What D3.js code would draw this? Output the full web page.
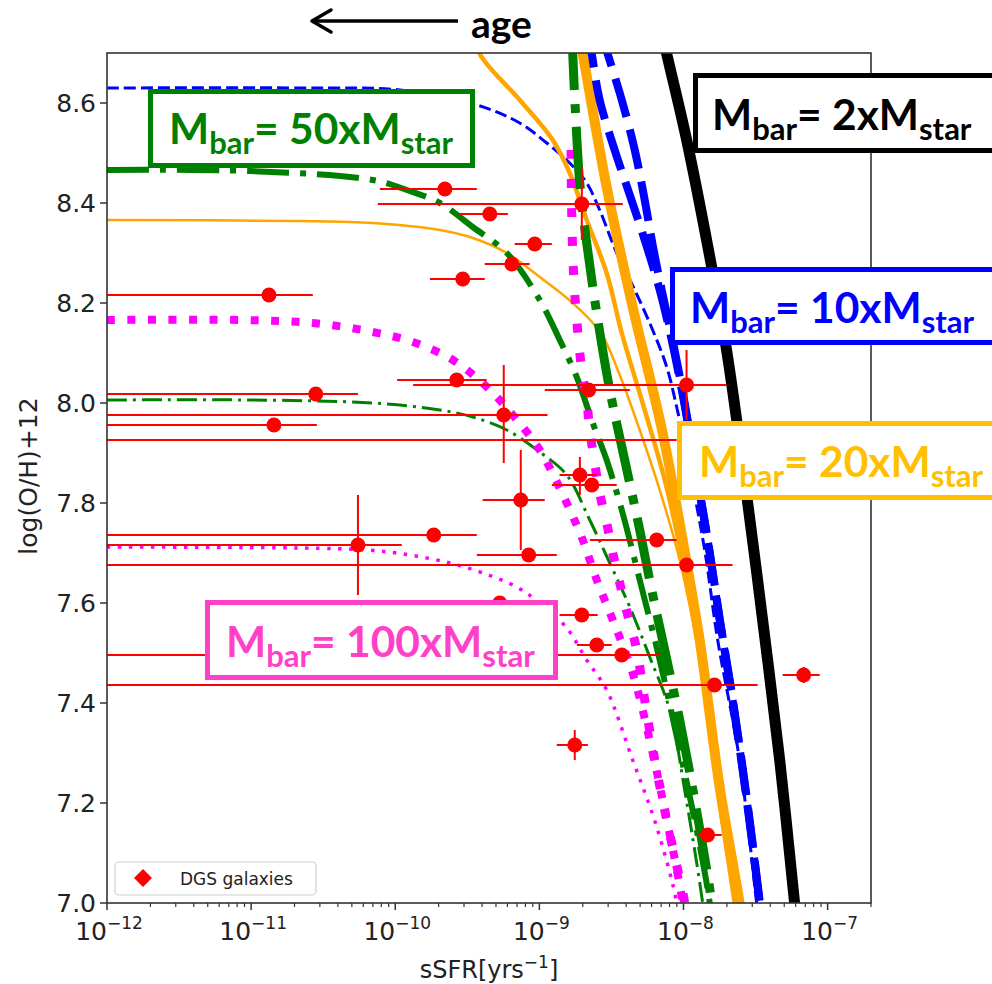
<!DOCTYPE html>
<html>
<head>
<meta charset="utf-8">
<script src="https://cdn.jsdelivr.net/npm/d3@7"></script>
<style>
  body { margin: 0; background: #fff; }
  svg { display: block; }
</style>
</head>
<body>
<div id="chart"></div>
<script>
// ---------- model curves, [sSFR, log(O/H)+12] ----------
const black2x = [[6.95e-9, 8.75], [7.65e-9, 8.698], [1.052e-8, 8.526], [1.569e-8, 8.272], [1.99e-8, 8.106],
    [2.66e-8, 7.846], [3.54e-8, 7.566], [4.65e-8, 7.286], [5.9e-8, 7.0], [6.15e-8, 6.95]];

const blue10xThickA = [[2.15e-9, 8.75], [2.31e-9, 8.698], [2.62e-9, 8.606], [3.33e-9, 8.506], [4.24e-9, 8.416],
    [5.38e-9, 8.326], [6.84e-9, 8.226], [8.28e-9, 8.126], [1.003e-8, 8.006], [1.215e-8, 7.866],
    [1.471e-8, 7.726], [1.782e-8, 7.566], [2.19e-8, 7.406], [2.744e-8, 7.206], [3.376e-8, 7.0], [3.541e-8, 6.95]];
const blue10xThickB = [[2.62e-9, 8.75], [2.98e-9, 8.698], [3.73e-9, 8.606], [4.59e-9, 8.506], [5.38e-9, 8.406],
    [6.11e-9, 8.316], [7.06e-9, 8.226], [8.4e-9, 8.126], [1.01e-8, 8.006], [1.22e-8, 7.866],
    [1.475e-8, 7.726], [1.79e-8, 7.566], [2.2e-8, 7.406], [2.76e-8, 7.206], [3.39e-8, 7.0], [3.56e-8, 6.95]];
const blue10xThin = [[1e-12, 8.63], [2.18e-11, 8.63], [1.076e-10, 8.626], [3.68e-10, 8.596], [7.31e-10, 8.56],
    [1.125e-9, 8.52], [1.624e-9, 8.48], [2.13e-9, 8.44], [2.62e-9, 8.386], [3.44e-9, 8.30], [4.59e-9, 8.226],
    [6.11e-9, 8.146], [7.65e-9, 8.072], [8.97e-9, 7.992], [1.104e-8, 7.866], [1.403e-8, 7.706],
    [1.727e-8, 7.526], [2.45e-8, 7.286], [3.218e-8, 7.0], [3.376e-8, 6.95]];

const orange20xThick = [[1.85e-9, 8.75], [2.0e-9, 8.698], [2.93e-9, 8.432], [4.44e-9, 8.192], [7.17e-9, 7.94],
    [1.052e-8, 7.68], [1.295e-8, 7.526], [1.782e-8, 7.232], [2.45e-8, 7.0], [2.573e-8, 6.95]];
const orange20xMid = [[3.45e-10, 8.75], [3.86e-10, 8.698], [7.31e-10, 8.606], [1.238e-9, 8.526], [1.624e-9, 8.46],
    [2.13e-9, 8.366], [2.93e-9, 8.26], [3.73e-9, 8.14], [5.38e-9, 7.986], [7.41e-9, 7.846], [9.87e-9, 7.686],
    [1.295e-8, 7.506], [1.727e-8, 7.226], [2.265e-8, 7.0], [2.376e-8, 6.95]];
const orange20xThin = [[1e-12, 8.366], [2.18e-11, 8.364], [6.99e-11, 8.36], [2.04e-10, 8.346], [3.45e-10, 8.33],
    [5.94e-10, 8.30], [1.006e-9, 8.252], [1.704e-9, 8.20], [2.67e-9, 8.14], [3.61e-9, 8.056], [4.97e-9, 7.946],
    [6.84e-9, 7.826], [9.41e-9, 7.686], [1.295e-8, 7.486], [1.782e-8, 7.206], [2.265e-8, 7.0], [2.376e-8, 6.95]];

const green50xSteep = [[1.69e-9, 8.75], [1.704e-9, 8.698], [1.788e-9, 8.572], [1.906e-9, 8.44], [2.13e-9, 8.32],
    [2.50e-9, 8.18], [3.08e-9, 8.026], [3.91e-9, 7.886], [4.97e-9, 7.746], [6.02e-9, 7.626], [7.41e-9, 7.506],
    [9.41e-9, 7.366], [1.196e-8, 7.206], [1.569e-8, 7.0], [1.62e-8, 6.95]];
const green50xThick = [[1e-12, 8.466], [9.81e-12, 8.464], [6.99e-11, 8.446], [1.203e-10, 8.426], [2.04e-10, 8.40],
    [3.45e-10, 8.352], [5.94e-10, 8.30], [1.006e-9, 8.206], [1.385e-9, 8.126], [1.817e-9, 8.052],
    [2.346e-9, 7.96], [2.93e-9, 7.886], [3.73e-9, 7.786], [4.97e-9, 7.646], [6.84e-9, 7.486],
    [9.41e-9, 7.306], [1.235e-8, 7.146], [1.52e-8, 7.0], [1.569e-8, 6.95]];
const green50xThin = [[1e-12, 8.006], [9.81e-12, 8.006], [6.99e-11, 8.0], [2.04e-10, 7.986], [3.45e-10, 7.972],
    [5.94e-10, 7.946], [1.006e-9, 7.902], [1.549e-9, 7.856], [2.236e-9, 7.766], [3.08e-9, 7.68],
    [4.24e-9, 7.592], [5.83e-9, 7.492], [8.02e-9, 7.386], [1.019e-8, 7.226], [1.359e-8, 7.0], [1.42e-8, 6.95]];

const magenta100xSteep = [[1.66e-9, 8.506], [1.677e-9, 8.376], [1.732e-9, 8.252], [1.817e-9, 8.166],
    [1.968e-9, 8.066], [2.13e-9, 8.006], [2.236e-9, 7.946], [2.42e-9, 7.88], [2.62e-9, 7.82], [2.93e-9, 7.76],
    [3.23e-9, 7.70], [3.61e-9, 7.64], [4.10e-9, 7.576], [4.74e-9, 7.506], [5.38e-9, 7.406], [6.32e-9, 7.286],
    [7.65e-9, 7.166], [9.12e-9, 7.066], [1.019e-8, 7.0], [1.052e-8, 6.95]];
const magenta100xThick = [[1e-12, 8.166], [8.77e-12, 8.166], [2.68e-11, 8.16], [6.99e-11, 8.142], [1.325e-10, 8.122],
    [2.51e-10, 8.086], [4.32e-10, 8.032], [6.54e-10, 7.976], [1.006e-9, 7.906], [1.549e-9, 7.80],
    [2.0e-9, 7.726], [2.50e-9, 7.646], [3.23e-9, 7.566], [4.44e-9, 7.46], [5.83e-9, 7.326],
    [7.41e-9, 7.186], [9.87e-9, 7.0], [1.019e-8, 6.95]];
const magenta100xThin = [[1e-12, 7.712], [2.18e-11, 7.71], [6.36e-11, 7.706], [1.262e-10, 7.696], [2.39e-10, 7.68],
    [4.05e-10, 7.66], [6.97e-10, 7.632], [1.006e-9, 7.60], [1.549e-9, 7.55], [2.13e-9, 7.486], [2.93e-9, 7.426],
    [4.44e-9, 7.286], [6.52e-9, 7.152], [8.97e-9, 7.0], [9.26e-9, 6.95]];

// ---------- DGS galaxies ----------
const galSSFR   = [1.33e-11, 2.21e-10, 4.53e-10, 9.29e-10, 6.44e-10, 2.94e-10, 1.97e-9, 2.81e-11, 1.44e-11, 2.67e-10,
    5.66e-10, 2.20e-9, 1.05e-8, 1.91e-9, 2.31e-9, 7.43e-10, 8.43e-10, 5.51e-11, 1.85e-10, 6.52e-9,
    1.05e-8, 5.31e-10, 1.97e-9, 2.50e-9, 3.73e-9, 1.64e-8, 6.82e-8, 1.76e-9, 1.47e-8];
const galOH     = [8.216, 8.428, 8.378, 8.318, 8.278, 8.248, 8.398, 8.018, 7.956, 8.046,
    7.976, 8.026, 8.036, 7.856, 7.836, 7.806, 7.696, 7.716, 7.736, 7.726,
    7.676, 7.60, 7.576, 7.516, 7.496, 7.436, 7.456, 7.316, 7.136];
const galSSFRlo = [1e-12, 7.82e-11, 2.81e-10, 6.75e-10, 4.18e-10, 1.74e-10, 7.57e-11, 1e-12, 1e-12, 1.03e-10,
    1e-12, 1.09e-9, 1.33e-10, 1.38e-9, 1.22e-9, 4.04e-10, 3.68e-10, 1e-12, 1e-12, 2.24e-9,
    1e-12, 3.8e-10, 1.38e-9, 1.82e-9, 1e-12, 1e-12, 4.88e-8, 1.32e-9, 1.24e-8];
const galSSFRhi = [2.68e-11, 3.68e-10, 6.04e-10, 1.22e-9, 8.57e-10, 4.18e-10, 3.79e-9, 5.51e-11, 2.86e-11, 4.31e-10,
    1.14e-9, 4.24e-9, 1.99e-8, 2.50e-9, 3.44e-9, 1.09e-9, 1.32e-9, 1.11e-10, 3.68e-10, 8.97e-9,
    2.19e-8, 7.4e-10, 2.54e-9, 3.18e-9, 6.84e-9, 3.27e-8, 8.81e-8, 2.17e-9, 1.84e-8];
const galOHlo   = [8.216, 8.428, 8.378, 8.318, 8.278, 8.248, 8.326, 8.018, 7.956, 8.046,
    7.88, 8.026, 7.966, 7.816, 7.836, 7.706, 7.696, 7.616, 7.736, 7.726,
    7.676, 7.60, 7.576, 7.516, 7.496, 7.436, 7.44, 7.286, 7.136];
const galOHhi   = [8.216, 8.428, 8.378, 8.318, 8.278, 8.248, 8.47, 8.018, 7.956, 8.046,
    8.076, 8.026, 8.106, 7.892, 7.836, 7.906, 7.696, 7.816, 7.736, 7.726,
    7.676, 7.60, 7.576, 7.516, 7.496, 7.436, 7.472, 7.346, 7.136];
// an x error bar whose marker is not visible in the figure
const loneBarOH = [7.926];
const loneBarLo = [1e-12];
const loneBarHi = [8.97e-9];

// ---------- axes ----------
const xMajor = [1e-12, 1e-11, 1e-10, 1e-9, 1e-8, 1e-7];
const xMajorExp = ["12", "11", "10", "9", "8", "7"];
const yMajor = [7.0, 7.2, 7.4, 7.6, 7.8, 8.0, 8.2, 8.4, 8.6];

// ---------- label boxes ----------
const boxRatios = ["2", "10", "20", "50", "100"];

const width = 992;
const height = 984;
const plot = { left: 107, right: 871, top: 53, bottom: 903 };

const svg = d3.select("#chart")
    .append("svg")
    .attr("width", width)
    .attr("height", height);

const x = d3.scaleLog().domain([1e-12, 2e-7]).range([plot.left, plot.right]);
const y = d3.scaleLinear().domain([7.0, 8.7]).range([plot.bottom, plot.top]);

svg.append("defs").append("clipPath").attr("id", "plot-clip")
    .append("rect")
    .attr("x", plot.left).attr("y", plot.top)
    .attr("width", plot.right - plot.left).attr("height", plot.bottom - plot.top);

const line = d3.line()
    .x(d => x(d[0]))
    .y(d => y(d[1]))
    .curve(d3.curveCatmullRom.alpha(0.5));

const BLUE = "#0000ff", GREEN = "#008000", ORANGE = "#ffa500", MAGENTA = "#ff00ff";

const series = [
    { data: blue10xThin, color: BLUE, width: 3, dash: "12,5" },
    { data: orange20xThin, color: ORANGE, width: 2.5, dash: null },
    { data: orange20xMid, color: ORANGE, width: 4.5, dash: null },
    { data: green50xThin, color: GREEN, width: 3, dash: "20,6,3,6" },
    { data: green50xThick, color: GREEN, width: 6, dash: "42,11,6,11" },
    { data: magenta100xThin, color: MAGENTA, width: 3.5, dash: "3.5,7.5" },
    { data: magenta100xThick, color: MAGENTA, width: 8, dash: "8,12.5" },
    { data: magenta100xSteep, color: MAGENTA, width: 9, dash: "9,20" },
    { data: green50xSteep, color: GREEN, width: 9, dash: "62,14,9,14" },
    { data: orange20xThick, color: ORANGE, width: 10, dash: null },
    { data: blue10xThickA, color: BLUE, width: 8, dash: "40,13" },
    { data: blue10xThickB, color: BLUE, width: 8, dash: "40,13" },
    { data: black2x, color: "#000", width: 11, dash: null }
];

const curves = svg.append("g").attr("clip-path", "url(#plot-clip)");

curves.selectAll("path")
    .data(series)
    .enter()
    .append("path")
    .attr("d", d => line(d.data))
    .attr("fill", "none")
    .attr("stroke", d => d.color)
    .attr("stroke-width", d => d.width)
    .attr("stroke-dasharray", d => d.dash)
    .attr("stroke-linecap", "butt");

// ---------- galaxies with error bars ----------
const gal = galSSFR.map((s, i) => ({
    s: s, oh: galOH[i],
    slo: galSSFRlo[i], shi: galSSFRhi[i],
    olo: galOHlo[i], ohi: galOHhi[i]
}));

const pts = svg.append("g").attr("clip-path", "url(#plot-clip)");
const RED = "#ff0000";

pts.selectAll(".lone")
    .data(loneBarOH)
    .enter()
    .append("line")
    .attr("x1", (d, i) => x(loneBarLo[i]))
    .attr("x2", (d, i) => x(loneBarHi[i]))
    .attr("y1", d => y(d)).attr("y2", d => y(d))
    .attr("stroke", RED).attr("stroke-width", 2);

pts.selectAll(".xerr")
    .data(gal)
    .enter()
    .append("line")
    .attr("x1", d => x(d.slo)).attr("x2", d => x(d.shi))
    .attr("y1", d => y(d.oh)).attr("y2", d => y(d.oh))
    .attr("stroke", RED).attr("stroke-width", 2);

pts.selectAll(".yerr")
    .data(gal.filter(d => d.ohi > d.olo))
    .enter()
    .append("line")
    .attr("x1", d => x(d.s)).attr("x2", d => x(d.s))
    .attr("y1", d => y(d.olo)).attr("y2", d => y(d.ohi))
    .attr("stroke", RED).attr("stroke-width", 2);

pts.selectAll("circle")
    .data(gal)
    .enter()
    .append("circle")
    .attr("cx", d => x(d.s))
    .attr("cy", d => y(d.oh))
    .attr("r", 7.5)
    .attr("fill", RED);

// ---------- axes ----------
const FONT = "DejaVu Sans, sans-serif";
const axisColor = "#333";

const xMinor = [];
xMajor.forEach(m => { for (let k = 2; k <= 9; k++) { if (m * k <= 2e-7) xMinor.push(m * k); } });

svg.append("g")
    .selectAll("line.xmin")
    .data(xMinor)
    .enter()
    .append("line")
    .attr("x1", d => x(d)).attr("x2", d => x(d))
    .attr("y1", plot.bottom).attr("y2", plot.bottom + 4)
    .attr("stroke", axisColor).attr("stroke-width", 1.2);

svg.append("g")
    .selectAll("line.xmaj")
    .data(xMajor)
    .enter()
    .append("line")
    .attr("x1", d => x(d)).attr("x2", d => x(d))
    .attr("y1", plot.bottom).attr("y2", plot.bottom + 7)
    .attr("stroke", axisColor).attr("stroke-width", 1.5);

const xLabels = svg.append("g")
    .selectAll("text")
    .data(xMajor)
    .enter()
    .append("text")
    .attr("x", d => x(d) + 2)
    .attr("y", 940)
    .attr("text-anchor", "middle")
    .style("font-family", FONT)
    .style("font-size", "25px")
    .style("fill", "#222");
xLabels.append("tspan").text("10");
xLabels.append("tspan")
    .attr("dy", -11)
    .style("font-size", "17px")
    .text((d, i) => "\u2212" + xMajorExp[i]);

svg.append("g")
    .selectAll("line.ymaj")
    .data(yMajor)
    .enter()
    .append("line")
    .attr("x1", plot.left - 7).attr("x2", plot.left)
    .attr("y1", d => y(d)).attr("y2", d => y(d))
    .attr("stroke", axisColor).attr("stroke-width", 1.5);

svg.append("g")
    .selectAll("text")
    .data(yMajor)
    .enter()
    .append("text")
    .attr("x", plot.left - 11)
    .attr("y", d => y(d) + 9)
    .attr("text-anchor", "end")
    .style("font-family", FONT)
    .style("font-size", "25px")
    .style("fill", "#222")
    .text(d => d3.format(".1f")(d));

// frame
svg.append("rect")
    .attr("x", plot.left).attr("y", plot.top)
    .attr("width", plot.right - plot.left).attr("height", plot.bottom - plot.top)
    .attr("fill", "none")
    .attr("stroke", axisColor)
    .attr("stroke-width", 1.6);

// axis titles
const xTitle = svg.append("text")
    .attr("x", (plot.left + plot.right) / 2)
    .attr("y", 978)
    .attr("text-anchor", "middle")
    .style("font-family", FONT)
    .style("font-size", "24px")
    .style("fill", "#222");
xTitle.append("tspan").text("sSFR[yrs");
xTitle.append("tspan").attr("dy", -10).style("font-size", "17px").text("\u22121");
xTitle.append("tspan").attr("dy", 10).text("]");

svg.append("text")
    .attr("transform", "translate(37,476) rotate(-90)")
    .attr("text-anchor", "middle")
    .style("font-family", FONT)
    .style("font-size", "25px")
    .style("fill", "#222")
    .text("log(O/H)+12");

// legend
const legend = svg.append("g");
legend.append("rect")
    .attr("x", 115).attr("y", 862)
    .attr("width", 201).attr("height", 33)
    .attr("rx", 4)
    .attr("fill", "#fff").attr("fill-opacity", 0.8)
    .attr("stroke", "#d0d0d0").attr("stroke-width", 1.2);
legend.append("path")
    .attr("d", "M143,869 L152,878 L143,887 L134,878 Z")
    .attr("fill", RED);
legend.append("text")
    .attr("x", 180).attr("y", 885)
    .style("font-family", FONT)
    .style("font-size", "17px")
    .style("fill", "#222")
    .text("DGS galaxies");

// ---------- Mbar label boxes ----------
const boxes = [
    { ratio: boxRatios[0], color: "#000000", x: 695.5, y: 75.5, w: 310, h: 75, tx: 712, base: 130 },
    { ratio: boxRatios[1], color: "#0000ff", x: 672.5, y: 269.5, w: 330, h: 73, tx: 690, base: 323 },
    { ratio: boxRatios[2], color: "#ffc000", x: 679.5, y: 423.5, w: 320, h: 74, tx: 699, base: 477 },
    { ratio: boxRatios[3], color: "#008000", x: 150.5, y: 91.5, w: 322, h: 74, tx: 169, base: 144 },
    { ratio: boxRatios[4], color: "#ff40c8", x: 207.5, y: 602.5, w: 348, h: 75, tx: 226, base: 657 }
];

const boxG = svg.append("g")
    .selectAll("g")
    .data(boxes)
    .enter()
    .append("g");

boxG.append("rect")
    .attr("x", d => d.x).attr("y", d => d.y)
    .attr("width", d => d.w).attr("height", d => d.h)
    .attr("fill", "#fff")
    .attr("stroke", d => d.color)
    .attr("stroke-width", 5);

const boxText = boxG.append("text")
    .attr("x", d => d.tx).attr("y", d => d.base)
    .style("font-family", "Lato, 'Open Sans', sans-serif")
    .style("font-weight", "bold")
    .style("font-size", "42.5px")
    .style("fill", d => d.color);
boxText.append("tspan").text("M");
boxText.append("tspan").attr("dy", 10).style("font-size", "31px").text("bar");
boxText.append("tspan").attr("dy", -10).text(d => "= " + d.ratio + "xM");
boxText.append("tspan").attr("dy", 10).style("font-size", "31px").text("star");

// ---------- age arrow ----------
svg.append("line")
    .attr("x1", 458).attr("x2", 313)
    .attr("y1", 21).attr("y2", 21)
    .attr("stroke", "#000").attr("stroke-width", 3.5);
svg.append("path")
    .attr("d", "M331,10 L312,21 L331,32")
    .attr("fill", "none")
    .attr("stroke", "#000").attr("stroke-width", 3.5)
    .attr("stroke-linejoin", "round").attr("stroke-linecap", "round");
svg.append("text")
    .attr("x", 471).attr("y", 38)
    .style("font-family", "Lato, 'Open Sans', sans-serif")
    .style("font-weight", "bold")
    .style("font-size", "39px")
    .style("fill", "#000")
    .text("age");
</script>
</body>
</html>
